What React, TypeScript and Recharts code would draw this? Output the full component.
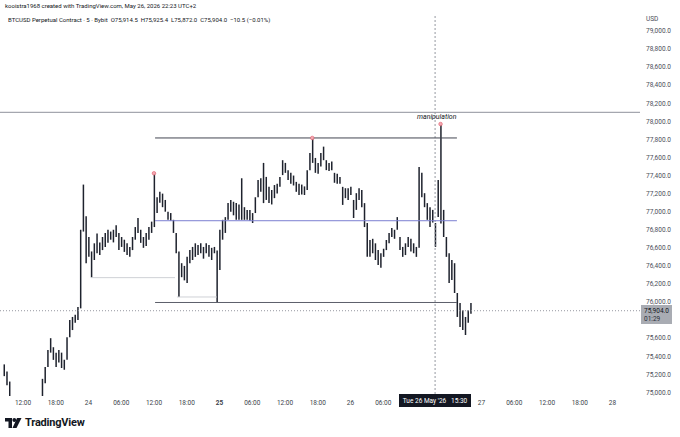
import {
  ComposedChart, Bar, XAxis, YAxis, ReferenceLine, ReferenceDot,
} from "recharts";

// 30-minute ranges, starting 23 May 08:30
const START_HOUR = 8.5;

const highs = [
  75310, 75230, 75120, 74920, 74860, 74800, 74760, 74820, 74880, 74850,
  74790, 74830, 74900, 74920, 75150, 75280, 75470, 75600, 75500, 75440,
  75470, 75440, 75360, 75610, 75800, 75835, 75860, 75945, 76800, 77300,
  76950, 76720, 76560, 76650, 76760, 76660, 76720, 76765, 76800, 76780,
  76800, 76850, 76765, 76720, 76690, 76650, 76610, 76720, 76830, 76930,
  76800, 76720, 76765, 76830, 76890, 77425, 77160, 77220, 77200, 77130,
  77000, 76985, 76910, 76765, 76560, 76430, 76400, 76500, 76575, 76610,
  76650, 76630, 76650, 76610, 76650, 76630, 76600, 76610, 76570, 76800,
  76910, 76940, 77095, 77130, 77110, 77095, 77080, 77370, 77050, 77020,
  77020, 76985, 77160, 77350, 77370, 77540, 77385, 77275, 77240, 77295,
  77310, 77385, 77570, 77540, 77460, 77430, 77400, 77330, 77310, 77300,
  77280, 77460, 77650, 77816, 77595, 77540, 77650, 77720, 77570, 77540,
  77555, 77430, 77420, 77385, 77275, 77260, 77260, 77275, 77130, 77205,
  77260, 77240, 77095, 76875, 76687, 76700, 76650, 76575, 76540, 76590,
  76687, 76765, 76820, 76800, 76940, 76720, 76610, 76650, 76720, 76700,
  76650, 76610, 77495, 77430, 77205, 77095, 77050, 77020, 76875, 77350,
  77970, 77020, 76720, 76540, 76465, 76430, 76100, 75990, 75910, 75835,
  75910, 75990,
];

const lows = [
  75180, 75080, 74960, 74780, 74720, 74650, 74600, 74680, 74740, 74700,
  74640, 74690, 74760, 74800, 74960, 75100, 75280, 75440, 75360, 75280,
  75330, 75270, 75250, 75360, 75610, 75690, 75770, 75800, 75930, 76780,
  76430, 76500, 76270, 76465, 76540, 76520, 76575, 76610, 76655, 76690,
  76660, 76720, 76575, 76610, 76555, 76520, 76500, 76575, 76690, 76765,
  76655, 76600, 76620, 76690, 76765, 76830, 76985, 77100, 77050, 77000,
  76910, 76900, 76765, 76540, 76055, 76275, 76240, 76210, 76430, 76465,
  76500, 76520, 76540, 76480, 76540, 76500, 76465, 76540, 75995, 76355,
  76690, 76765, 76910, 77000, 76960, 76910, 76910, 76910, 76910, 76910,
  76900, 76875, 76985, 77160, 77220, 77095, 77130, 77095, 77080, 77150,
  77200, 77275, 77405, 77430, 77350, 77310, 77290, 77220, 77185, 77190,
  77185, 77240, 77460, 77540, 77430, 77420, 77500, 77570, 77460, 77450,
  77460, 77320, 77310, 77310, 77075, 77150, 77130, 77185, 76930, 77020,
  77130, 77050, 76830, 76500, 76500, 76540, 76465, 76410, 76380, 76500,
  76575, 76650, 76720, 76700, 76800, 76575, 76500, 76520, 76610, 76560,
  76540, 76500, 76600, 77160, 77050, 76910, 76830, 76880, 76610, 76940,
  76870, 76720, 76500, 76210, 76245, 76100, 75835, 75725, 75690, 75635,
  75770, 75870,
];

// 75,800 sits under the last-price label, so it is left out
const priceTicks = [
  75000, 75200, 75400, 75600, 76000, 76200, 76400, 76600, 76800,
  77000, 77200, 77400, 77600, 77800, 78000, 78200, 78400, 78600, 78800, 79000,
];

// hours since 23 May 00:00 (26 May 12:00 and 18:00 hide behind the crosshair label)
const timeTicks = [
  12, 18, 24, 30, 36, 42, 48, 54, 60, 66, 72, 78, 96, 102, 108, 114, 120,
];

const markerBars = [55, 113, 160];

const lastPrice = 75904;
const upperLine = 78100;
const rangeTop = 77816;
const rangeMid = 76900;
const rangeLow = 75995;
const leftLevel = 76270;
const wickLevel = 76056;
const crosshairHour = 87.5;

const data = highs.map((h, i) => ({
  t: START_HOUR + i * 0.5,
  range: [lows[i], h],
}));

const FONT = "Roboto, 'Noto Sans', sans-serif";
const INK = "#131722";

function timeLabel(h: number) {
  if (h % 24 === 0) return String(23 + h / 24);
  const hh = h % 24;
  return `${hh < 10 ? "0" : ""}${hh}:00`;
}

function TimeTick(props: any) {
  const { x, payload } = props;
  return (
    <text
      x={x}
      y={405}
      textAnchor="middle"
      fontSize={6.5}
      fontFamily={FONT}
      fontWeight={payload.value === 48 ? 700 : 400}
      fill="#3b3f4a"
    >
      {timeLabel(payload.value)}
    </text>
  );
}

function PriceTick(props: any) {
  const { y, payload } = props;
  return (
    <text x={646} y={y + 2.3} fontSize={6.5} fontFamily={FONT} fill="#4a4e59">
      {payload.value.toLocaleString("en-US", { minimumFractionDigits: 1 })}
    </text>
  );
}

function Logo() {
  return (
    <div style={{ position: "absolute", left: 5, top: 416, display: "flex", alignItems: "center" }}>
      <svg width="17" height="10" viewBox="0 0 17 10">
        <path d="M0 0 H7 V10 H3.5 V3.5 H0 Z" fill={INK} />
        <circle cx="9.3" cy="2" r="1.9" fill={INK} />
        <path d="M12 0 H16.5 L11.5 10 H7.5 Z" fill={INK} />
      </svg>
      <span style={{ marginLeft: 3, fontSize: 11, fontWeight: 700, color: INK, fontFamily: FONT, letterSpacing: -0.2 }}>
        TradingView
      </span>
    </div>
  );
}

export default function App() {
  return (
    <div style={{ position: "absolute", left: 0, top: 0, width: 680, height: 437, background: "#fff", overflow: "hidden" }}>
      <ComposedChart
        width={680}
        height={437}
        data={data}
        margin={{ top: 14, right: 0, left: 0, bottom: 19 }}
      >
        <XAxis
          dataKey="t"
          type="number"
          domain={[7.79, 125.04]}
          allowDataOverflow
          ticks={timeTicks}
          tick={<TimeTick />}
          tickLine={false}
          axisLine={false}
          height={20}
          interval={0}
        />
        <YAxis
          orientation="right"
          type="number"
          domain={[74938, 79188]}
          allowDataOverflow
          ticks={priceTicks}
          tick={<PriceTick />}
          tickLine={false}
          axisLine={false}
          width={40}
          interval={0}
        />
        <ReferenceLine y={upperLine} stroke="#8f929b" strokeWidth={1} />
        <ReferenceLine y={lastPrice} stroke="#9598a1" strokeDasharray="1 2" />
        <ReferenceLine x={crosshairHour} stroke="#9598a1" strokeDasharray="2 2" />
        <ReferenceLine segment={[{ x: 36.2, y: rangeTop }, { x: 91.5, y: rangeTop }]} stroke="#434651" />
        <ReferenceLine segment={[{ x: 36.2, y: rangeMid }, { x: 91.5, y: rangeMid }]} stroke="#7c7fd1" />
        <ReferenceLine segment={[{ x: 36.2, y: rangeLow }, { x: 91.5, y: rangeLow }]} stroke="#5d606b" />
        <ReferenceLine segment={[{ x: 24.46, y: leftLevel }, { x: 39.85, y: leftLevel }]} stroke="#cfd1d6" />
        <ReferenceLine segment={[{ x: 40.2, y: wickLevel }, { x: 47.5, y: wickLevel }]} stroke="#cfd1d6" />
        <Bar dataKey="range" fill="#1e222d" barSize={1.5} isAnimationActive={false} />
        {markerBars.map((i) => (
          <ReferenceDot
            key={i}
            x={data[i].t}
            y={highs[i]}
            r={1.8}
            fill="#f4a7b1"
            stroke="#e35d6a"
            strokeWidth={0.6}
          />
        ))}
      </ComposedChart>

      <div style={{ position: "absolute", left: 5, top: 2, fontSize: 6, fontFamily: FONT, color: INK }}>
        kooistra1968 created with TradingView.com, May 26, 2026 22:23 UTC+2
      </div>
      <div style={{ position: "absolute", left: 8, top: 16, fontSize: 6, fontFamily: FONT, color: INK, whiteSpace: "pre" }}>
        {"BTCUSD Perpetual Contract · 5 · Bybit  O75,914.5  H75,925.4  L75,872.0  C75,904.0  −10.5 (−0.01%)"}
      </div>
      <div style={{ position: "absolute", left: 646, top: 15, fontSize: 6.5, fontFamily: FONT, color: "#4a4e59" }}>
        USD
      </div>
      <div style={{ position: "absolute", left: 417, top: 113, fontSize: 7, fontStyle: "italic", fontFamily: FONT, color: INK }}>
        manipulation
      </div>
      <div
        style={{
          position: "absolute", left: 641, top: 305, width: 31, height: 19,
          background: "#a9acb3", fontFamily: FONT, fontSize: 6.5, lineHeight: "8px",
          color: INK, paddingLeft: 3, boxSizing: "border-box", paddingTop: 2,
        }}
      >
        <div>75,904.0</div>
        <div style={{ color: "#2a2e39" }}>01:29</div>
      </div>
      <div
        style={{
          position: "absolute", left: 399, top: 394, width: 72, height: 13,
          background: INK, color: "#fff", fontFamily: FONT, fontSize: 6.5,
          display: "flex", alignItems: "center", justifyContent: "center", whiteSpace: "pre",
        }}
      >
        {"Tue 26 May '26   15:30"}
      </div>
      <Logo />
    </div>
  );
}
